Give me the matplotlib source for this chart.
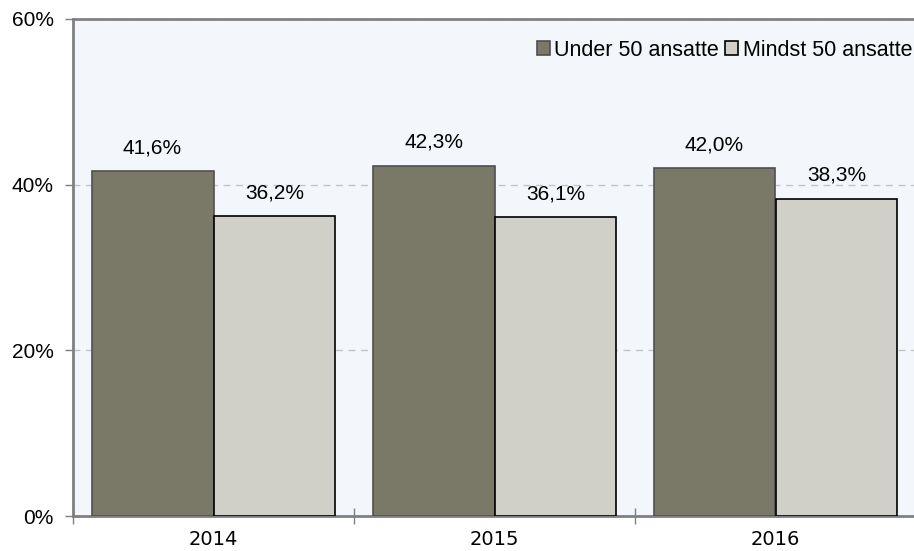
import matplotlib
matplotlib.use('Agg')
import matplotlib.pyplot as plt
import numpy as np
from matplotlib.ticker import FixedLocator, PercentFormatter

# Data
years = ['2014', '2015', '2016']
series_names = ['Under 50 ansatte', 'Mindst 50 ansatte']
under_50 = [41.6, 42.3, 42.0]
mindst_50 = [36.2, 36.1, 38.3]

dark_col = '#7a7968'
light_col = '#d0d0c8'
bg_col = '#f3f7fb'
spine_col = '#808080'

fig = plt.figure(figsize=(9.14, 5.51), dpi=100)
ax = fig.add_axes([73 / 914, 1 - 516 / 551, (916 - 73) / 914, (516 - 19) / 551])
ax.set_facecolor(bg_col)

x = np.arange(len(years))
w = 0.434
b1 = ax.bar(x - w / 2, under_50, w, color=dark_col, edgecolor='#505050', linewidth=1.2,
            label=series_names[0], zorder=3)
b2 = ax.bar(x + w / 2, mindst_50, w, color=light_col, edgecolor='black', linewidth=1.2,
            label=series_names[1], zorder=3)

# value labels
for bars in (b1, b2):
    for rect in bars:
        val = rect.get_height()
        ax.annotate('{:.1f}%'.format(val).replace('.', ','),
                    (rect.get_x() + rect.get_width() / 2, val),
                    xytext=(0, 10), textcoords='offset points',
                    ha='center', va='bottom', fontsize=15,
                    family='Liberation Sans', color='black', zorder=4)

# axes
ax.set_ylim(0, 60)
ax.set_xlim(-0.5, 2.5)
ax.yaxis.set_major_locator(FixedLocator([0, 20, 40, 60]))
ax.yaxis.set_major_formatter(PercentFormatter(decimals=0))
ax.yaxis.grid(True, linestyle=(0, (5, 4)), color='#c4c4c4', linewidth=1, zorder=0)
ax.tick_params(axis='y', length=6, width=1, color=spine_col, labelsize=15, pad=8)
for lbl in ax.get_yticklabels():
    lbl.set_family('Liberation Sans')

ax.set_xticks([-0.5, 0.5, 1.5, 2.5])
ax.set_xticklabels([])
ax.set_xticks(x, minor=True)
ax.set_xticklabels(years, minor=True, fontsize=14, family='DejaVu Sans')
ax.tick_params(axis='x', which='major', direction='inout', length=12, width=1, color=spine_col)
ax.tick_params(axis='x', which='minor', length=0, pad=10)

for side in ['left', 'bottom', 'top']:
    ax.spines[side].set_color(spine_col)
    ax.spines[side].set_linewidth(2)
ax.spines['right'].set_visible(False)

# legend sits at the top right, just inside the figure edge
leg = fig.legend(handles=[b1, b2], loc='center right', bbox_to_anchor=(0.998, 1 - 50 / 551),
                 ncol=2, frameon=False, handlelength=0.6, handleheight=0.6,
                 handletextpad=0.2, columnspacing=0.3, borderaxespad=0, borderpad=0,
                 prop={'family': 'Liberation Sans', 'size': 15.5})

plt.savefig('out.png', dpi=100)
